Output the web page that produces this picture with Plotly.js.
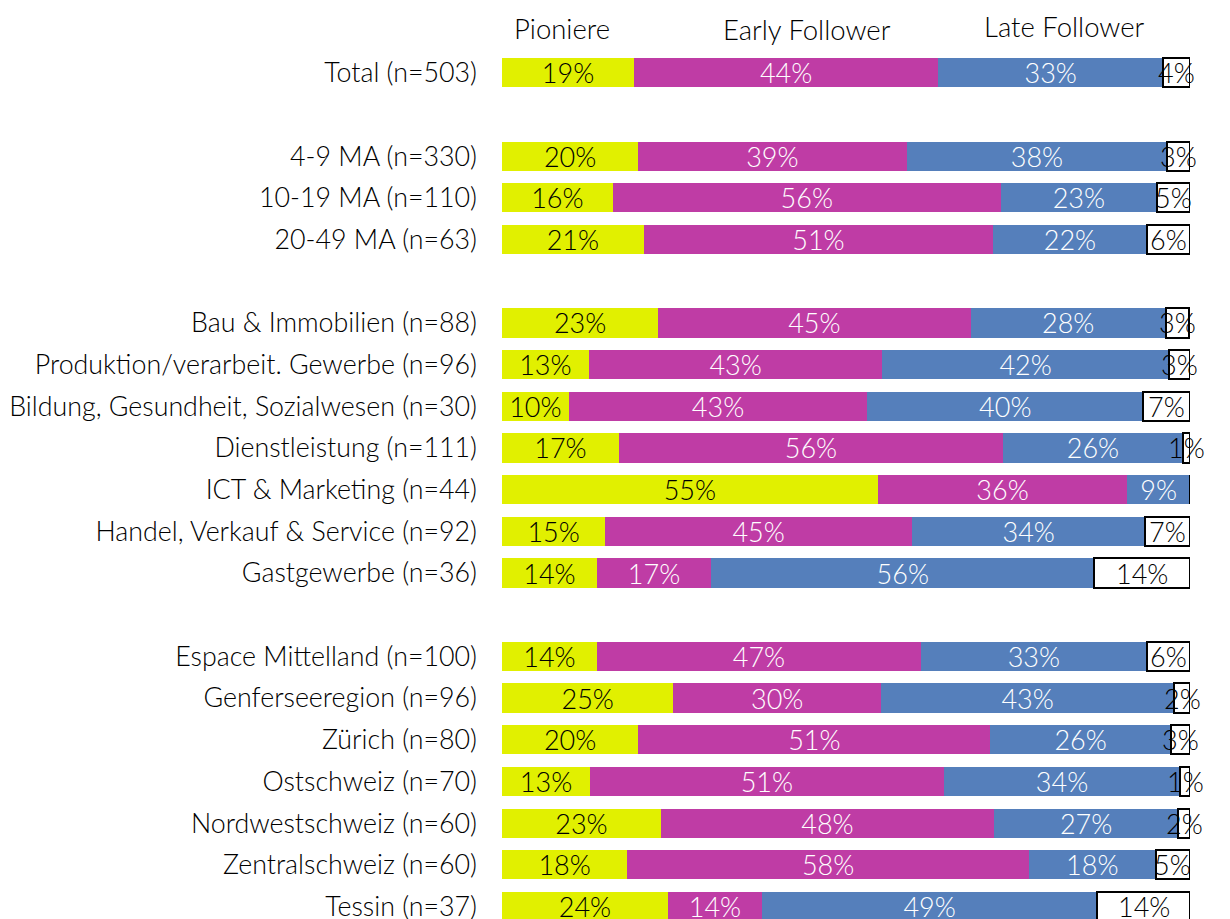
<!DOCTYPE html>
<html>
<head>
<meta charset="utf-8">
<script src="https://cdn.plot.ly/plotly-3.0.1.min.js"></script>
<style>html,body{margin:0;padding:0;background:#fff;}#chart{width:1230px;height:919px;}</style>
</head>
<body>
<div id="chart"></div>
<script>
// Category labels (null = empty spacer row)
const categories = [
  "Total (n=503)", null,
  "4-9 MA (n=330)", "10-19 MA (n=110)", "20-49 MA (n=63)", null,
  "Bau & Immobilien (n=88)", "Produktion/verarbeit. Gewerbe (n=96)",
  "Bildung, Gesundheit, Sozialwesen (n=30)", "Dienstleistung (n=111)",
  "ICT & Marketing (n=44)", "Handel, Verkauf & Service (n=92)", "Gastgewerbe (n=36)", null,
  "Espace Mittelland (n=100)", "Genferseeregion (n=96)", "Zürich (n=80)", "Ostschweiz (n=70)",
  "Nordwestschweiz (n=60)", "Zentralschweiz (n=60)", "Tessin (n=37)"
];
const seriesNames = ["Pioniere", "Early Follower", "Late Follower", "Rest"];
const pioniere =      [19.2, null, 19.8, 16.1, 20.6, null, 22.7, 12.6, 9.7, 17.0, 54.6, 15.0, 13.8, null, 13.8, 24.9, 19.8, 12.8, 23.1, 18.2, 24.1];
const earlyFollower = [44.2, null, 39.0, 56.4, 50.8, null, 45.4, 42.7, 43.4, 55.8, 36.3, 44.6, 16.6, null, 47.1, 30.2, 51.2, 51.4, 48.4, 58.4, 13.7];
const lateFollower =  [32.7, null, 37.9, 22.7, 22.3, null, 28.4, 41.6, 40.1, 26.2, 9.1, 33.9, 55.7, null, 32.8, 42.6, 26.2, 34.4, 26.8, 18.4, 48.7];
const rest =          [3.9, null, 3.3, 4.8, 6.3, null, 3.4, 3.1, 6.8, 1.0, 0, 6.5, 13.9, null, 6.3, 2.3, 2.8, 1.4, 1.7, 5.0, 13.5];

const FONT = "Lato, 'Open Sans', sans-serif";
const colors = ["#e1f000", "#bf3ca5", "#557fbb", "#ffffff"];
const textColors = ["#000000", "#ffffff", "#ffffff", "#000000"];
const allSeries = [pioniere, earlyFollower, lateFollower, rest];

const rowsY = [], rowsLab = [];
categories.forEach((c, i) => { if (c !== null) { rowsY.push(i); rowsLab.push(c); } });

const traces = allSeries.map((vals, k) => {
  const ys = [], xs = [], txt = [];
  vals.forEach((v, i) => {
    if (v === null) return;
    ys.push(i); xs.push(v);
    txt.push(v > 0 ? Math.round(v) + "%" : "");
  });
  return {
    type: "bar", orientation: "h", name: seriesNames[k],
    x: xs, y: ys, text: txt,
    textposition: k === 3 ? "none" : "inside", insidetextanchor: "middle",
    constraintext: "none", textangle: 0,
    textfont: {family: FONT, size: 27, color: textColors[k], weight: 300},
    marker: {color: colors[k], line: {color: k === 3 ? "#000000" : colors[k], width: k === 3 ? 2 : 0}},
    width: 0.7, hoverinfo: "skip", cliponaxis: false
  };
});

// labels of the last (white) segment, centred on the segment through the data axes
const annotations = [];
rest.forEach((v, i) => {
  if (v === null || v <= 0) return;
  const start = pioniere[i] + earlyFollower[i] + lateFollower[i];
  annotations.push({
    text: Math.round(v) + "%", x: start + v / 2, xref: "x", y: i, yref: "y",
    xanchor: "center", yanchor: "middle", showarrow: false,
    font: {family: FONT, size: 27, color: "#000", weight: 300}
  });
});

const headerX = [8.7, 44.3, 81.8];
const headerShift = [24, 23, 26];
seriesNames.slice(0, 3).forEach((n, k) => annotations.push({
  text: n, x: headerX[k], xref: "x", y: 1, yref: "paper", yshift: headerShift[k],
  yanchor: "middle", xanchor: "center", showarrow: false,
  font: {family: FONT, size: 27.5, color: "#000", weight: 300}
}));

const layout = {
  width: 1230, height: 919,
  margin: {l: 502, r: 40, t: 52, b: 0},
  barmode: "stack", showlegend: false,
  paper_bgcolor: "#fff", plot_bgcolor: "#fff",
  xaxis: {range: [0, 100], visible: false, fixedrange: true},
  yaxis: {range: [20.3, -0.5], tickvals: rowsY, ticktext: rowsLab, showgrid: false, zeroline: false,
          showline: false, ticks: "", ticklabelstandoff: 24, ticklabeloverflow: "allow",
          tickfont: {family: FONT, size: 26.8, color: "#000", weight: 300}},
  annotations: annotations,
  font: {family: FONT}
};
Plotly.newPlot("chart", traces, layout, {displayModeBar: false, staticPlot: true});
</script>
</body>
</html>
